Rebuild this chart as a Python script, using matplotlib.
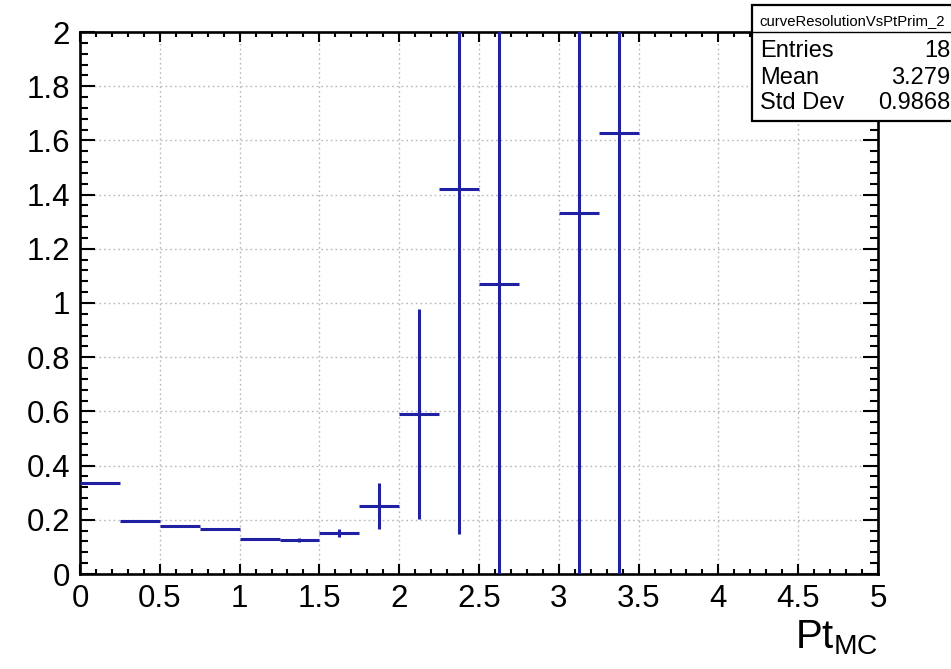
import numpy as np
import matplotlib
matplotlib.use("Agg")
import matplotlib.pyplot as plt
from matplotlib.ticker import MultipleLocator, FuncFormatter
from matplotlib.patches import Rectangle
from matplotlib.lines import Line2D

plt.rcParams['font.family'] = ['Liberation Sans', 'DejaVu Sans']
plt.rcParams['mathtext.fontset'] = 'custom'
plt.rcParams['mathtext.rm'] = 'Liberation Sans'

# Histogram content: bin centres (width 0.25), values and errors
bin_width = 0.25
bin_centers = [0.125, 0.375, 0.625, 0.875, 1.125, 1.375, 1.625, 1.875,
               2.125, 2.375, 2.625, 3.125, 3.375]
values = [0.337, 0.196, 0.177, 0.165, 0.130, 0.125, 0.152, 0.252,
          0.591, 1.420, 1.071, 1.333, 1.627]
errors = [0.004, 0.003, 0.003, 0.004, 0.003, 0.006, 0.015, 0.085,
          0.388, 1.272, 1.600, 1.700, 1.900]

stats_title = "curveResolutionVsPtPrim_2"
stats_labels = ["Entries", "Mean", "Std Dev"]
stats_values = ["18", "3.279", "0.9868"]

W, H = 951, 669
fig = plt.figure(figsize=(W / 100, H / 100), dpi=100)
ax = fig.add_axes([80 / W, 1 - 574 / H, (878 - 80) / W, (574 - 32) / H])

blue = '#2020a2'
ax.errorbar(bin_centers, values, xerr=bin_width / 2, yerr=errors,
            fmt='none', ecolor=blue, elinewidth=2.2, capsize=0, zorder=3)

ax.set_xlim(0, 5)
ax.set_ylim(0, 2)

ax.xaxis.set_major_locator(MultipleLocator(0.5))
ax.xaxis.set_minor_locator(MultipleLocator(0.1))
ax.yaxis.set_major_locator(MultipleLocator(0.2))
ax.yaxis.set_minor_locator(MultipleLocator(0.04))

fmt = FuncFormatter(lambda v, p: ('%g' % round(v, 3)))
ax.xaxis.set_major_formatter(fmt)
ax.yaxis.set_major_formatter(fmt)

ax.tick_params(axis='both', which='both', direction='in', top=True, right=True,
               width=1.5, color='black')
ax.tick_params(axis='x', which='major', length=7.5, pad=7.5, labelsize=22.5)
ax.tick_params(axis='x', which='minor', length=3.8)
ax.tick_params(axis='y', which='major', length=11, pad=7, labelsize=22.5)
ax.tick_params(axis='y', which='minor', length=5.5)

for s in ax.spines.values():
    s.set_linewidth(1.9)

ax.grid(True, which='major', color='#b8b8b8', linestyle=(0, (1.2, 2.2)),
        linewidth=1.0, zorder=0)
ax.set_axisbelow(True)

# Axis title with subscript, right aligned at the end of the x axis
fig.text(878 / W, 1 - 638 / H, r'$\mathrm{Pt}_{\mathrm{MC}}$', fontsize=29,
         ha='right', va='center')

# Statistics box
x0 = 752 / W
top = 1 - 5 / H
bot = 1 - 121 / H
sep = 1 - 32 / H
box = Rectangle((x0, bot), 1.05 - x0, top - bot, transform=fig.transFigure,
                facecolor='white', edgecolor='black', linewidth=1.6, zorder=10,
                clip_on=False)
fig.add_artist(box)
fig.add_artist(Line2D([x0, 1.0], [sep, sep], transform=fig.transFigure,
                      color='black', linewidth=1.0, zorder=11))
fig.text(759 / W, 1 - 21 / H, stats_title, fontsize=10.7, ha='left',
         va='center', zorder=12)
row_y = [51, 78, 103]
for lab, val, yy in zip(stats_labels, stats_values, row_y):
    fig.text(760 / W, 1 - yy / H, lab, fontsize=17, ha='left', va='center',
             zorder=12)
    fig.text(950 / W, 1 - yy / H, val, fontsize=17, ha='right', va='center',
             zorder=12)

fig.savefig('out.png', dpi=100)
